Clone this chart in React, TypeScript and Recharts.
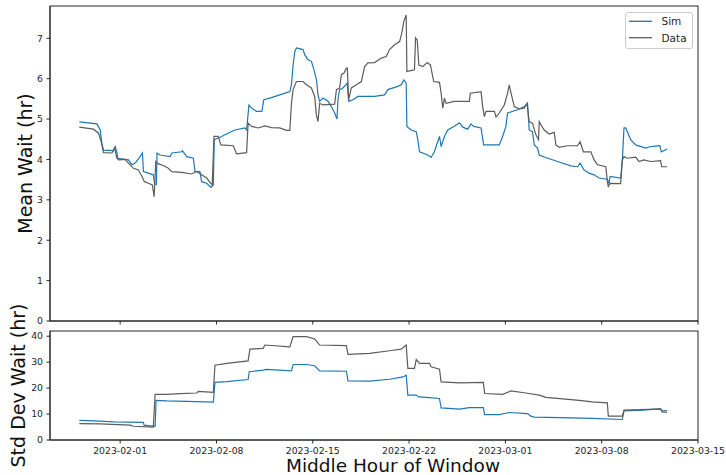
import React from 'react';
import { LineChart, Line, XAxis, YAxis, Legend } from 'recharts';

// x values are days after 2023-02-01 00:00
const DAY_TICKS = [0, 7, 14, 21, 28, 35, 42];
const MEAN_TICKS = [0, 1, 2, 3, 4, 5, 6, 7];
const STD_TICKS = [0, 10, 20, 30, 40];
const BASE_DATE = Date.UTC(2023, 1, 1);

const simMeanDays = [-2.97, -1.69, -1.45, -1.33, -1.21, -0.49, -0.36, -0.24, -0.17, 0.6, 0.85, 1.09, 1.45, 1.62, 1.69, 2.41, 2.5, 2.63, 2.68, 2.9, 3.63, 3.77, 4.47, 4.52, 4.84, 5.32, 5.44, 5.8, 5.92, 6.29, 6.6, 6.77, 6.84, 7.13, 7.38, 7.61, 8.34, 9.07, 9.19, 9.36, 9.55, 9.91, 10.3, 10.44, 10.88, 11.6, 12.33, 12.45, 12.57, 12.69, 12.81, 13.29, 13.42, 13.66, 13.9, 14.09, 14.27, 14.38, 14.5, 14.74, 15.11, 15.35, 15.59, 15.76, 15.83, 15.95, 16.19, 16.51, 16.61, 16.92, 17.28, 18.49, 19.22, 19.46, 20.18, 20.43, 20.62, 20.79, 20.84, 21.15, 21.52, 21.63, 21.76, 22.36, 22.6, 22.84, 23.08, 23.21, 23.33, 23.57, 23.81, 24.29, 24.66, 24.9, 25.26, 25.5, 25.69, 26.23, 26.42, 27.56, 27.8, 28.04, 28.16, 28.88, 29.37, 29.61, 29.73, 29.97, 30.1, 30.34, 30.46, 30.82, 31.79, 32.76, 33.24, 33.43, 33.72, 34.08, 34.45, 34.81, 35.41, 35.53, 35.61, 36.38, 36.5, 36.62, 36.75, 37.11, 37.47, 38.2, 38.56, 39.23, 39.33, 39.76];
const simMeanValues = [4.93, 4.88, 4.73, 4.4, 4.23, 4.22, 4.32, 4.17, 4.03, 3.99, 3.87, 3.91, 4.07, 4.16, 3.7, 3.62, 3.4, 3.38, 4.16, 4.11, 4.07, 4.16, 4.19, 4.22, 4.07, 4.03, 3.7, 3.7, 3.45, 3.41, 3.31, 3.37, 4.49, 4.53, 4.57, 4.61, 4.73, 4.78, 4.73, 5.35, 5.27, 5.19, 5.19, 5.48, 5.52, 5.6, 5.68, 5.85, 6.34, 6.67, 6.76, 6.72, 6.59, 6.47, 6.43, 6.22, 5.97, 5.6, 5.44, 5.52, 5.44, 5.31, 5.15, 5.0, 5.48, 5.73, 5.77, 5.89, 5.44, 5.48, 5.56, 5.56, 5.6, 5.73, 5.81, 5.85, 5.97, 5.89, 4.82, 4.73, 4.69, 4.49, 4.19, 4.11, 4.05, 4.19, 4.44, 4.57, 4.32, 4.57, 4.73, 4.82, 4.91, 4.8, 4.75, 4.88, 4.82, 4.78, 4.36, 4.36, 4.57, 4.82, 5.15, 5.23, 5.31, 5.39, 4.73, 4.69, 4.36, 4.28, 4.11, 4.06, 3.95, 3.84, 3.82, 3.91, 3.74, 3.66, 3.62, 3.54, 3.51, 3.41, 3.58, 3.54, 3.99, 4.78, 4.78, 4.49, 4.36, 4.28, 4.32, 4.34, 4.19, 4.26];

const dataMeanDays = [-2.97, -1.94, -1.57, -1.38, -1.21, -0.6, -0.41, -0.24, -0.12, 0.36, 0.6, 0.96, 1.33, 1.45, 1.57, 1.76, 2.05, 2.34, 2.47, 2.59, 2.78, 3.14, 3.5, 3.75, 4.47, 5.2, 5.56, 5.92, 6.29, 6.53, 6.69, 6.82, 7.13, 7.32, 8.22, 8.46, 9.19, 9.3, 9.55, 10.03, 10.52, 11.0, 11.6, 12.09, 12.33, 12.45, 12.57, 12.81, 13.29, 13.54, 13.9, 14.14, 14.26, 14.38, 14.5, 14.74, 15.59, 15.72, 15.95, 16.08, 16.27, 16.44, 16.51, 16.61, 16.8, 17.17, 17.53, 17.77, 18.01, 18.49, 18.98, 19.34, 19.58, 19.94, 20.31, 20.47, 20.62, 20.79, 20.84, 21.39, 21.47, 21.59, 21.71, 22.0, 22.31, 22.55, 22.79, 23.21, 23.33, 23.45, 23.57, 23.69, 24.29, 25.38, 25.45, 26.23, 26.35, 26.47, 26.59, 27.2, 27.32, 27.56, 27.92, 28.16, 28.28, 28.41, 28.65, 29.01, 29.37, 29.57, 29.73, 29.97, 30.22, 30.41, 30.46, 30.58, 30.82, 31.18, 31.55, 31.67, 31.91, 32.51, 33.24, 33.43, 33.67, 34.21, 34.45, 34.69, 35.3, 35.41, 35.48, 35.61, 36.38, 36.5, 36.62, 36.86, 37.47, 37.71, 38.07, 38.56, 39.28, 39.36, 39.76];
const dataMeanValues = [4.8, 4.75, 4.65, 4.44, 4.17, 4.16, 4.28, 4.03, 3.99, 4.0, 3.91, 3.78, 3.74, 3.66, 3.59, 3.45, 3.41, 3.37, 3.08, 3.95, 3.89, 3.85, 3.78, 3.7, 3.68, 3.64, 3.7, 3.62, 3.54, 3.43, 3.37, 4.57, 4.57, 4.36, 4.34, 4.14, 4.17, 4.9, 4.82, 4.78, 4.83, 4.79, 4.78, 4.72, 4.72, 5.39, 5.73, 5.93, 5.93, 5.85, 5.77, 5.56, 5.11, 4.94, 5.39, 5.35, 5.37, 5.73, 5.77, 6.1, 6.14, 6.26, 6.26, 5.48, 5.77, 5.85, 5.93, 6.3, 6.39, 6.4, 6.51, 6.55, 6.72, 6.84, 6.92, 7.13, 7.42, 7.58, 6.18, 6.22, 7.01, 6.96, 6.34, 6.3, 6.4, 6.34, 5.93, 5.91, 5.64, 5.27, 5.52, 5.39, 5.44, 5.44, 5.64, 5.68, 5.31, 5.06, 5.19, 5.19, 5.05, 5.15, 5.35, 5.64, 5.85, 5.64, 5.31, 5.25, 5.27, 5.39, 4.94, 4.9, 4.61, 4.49, 4.94, 4.86, 4.73, 4.63, 4.67, 4.36, 4.3, 4.34, 4.34, 4.44, 4.19, 4.19, 3.99, 3.87, 3.82, 3.45, 3.33, 3.41, 3.4, 3.99, 4.07, 4.03, 4.06, 3.95, 3.99, 3.95, 3.97, 3.82, 3.82];

const simStdDays = [-2.97, -1.45, -0.49, 1.69, 1.74, 2.54, 2.61, 3.39, 4.84, 6.77, 6.89, 7.74, 9.3, 9.38, 10.39, 10.64, 12.45, 12.57, 13.54, 14.14, 14.5, 16.44, 16.56, 18.13, 19.58, 20.55, 20.79, 20.91, 21.52, 21.71, 22.24, 23.21, 23.33, 24.66, 25.38, 26.4, 26.49, 27.56, 28.28, 29.61, 29.85, 30.1, 31.91, 34.32, 36.5, 36.62, 37.95, 39.28, 39.4, 39.76];
const simStdValues = [7.6, 7.3, 6.95, 6.8, 5.7, 5.3, 15.3, 15.1, 14.9, 14.6, 22.2, 22.5, 23.3, 26.3, 26.9, 27.2, 26.6, 29.1, 29.1, 28.6, 26.6, 26.5, 22.8, 22.7, 23.4, 24.3, 25.0, 17.3, 17.3, 16.6, 16.4, 16.0, 12.4, 11.9, 12.5, 12.5, 9.8, 9.8, 10.6, 10.2, 9.2, 8.8, 8.6, 8.3, 7.9, 11.2, 11.5, 12.0, 11.2, 11.3];

const dataStdDays = [-2.97, -1.45, 0.73, 0.96, 2.41, 2.54, 3.39, 4.35, 5.56, 5.68, 6.77, 6.89, 7.74, 9.3, 9.43, 10.39, 10.52, 12.33, 12.57, 13.54, 14.14, 14.5, 16.44, 16.56, 18.13, 19.58, 20.43, 20.79, 20.91, 21.39, 21.52, 21.76, 22.48, 22.6, 23.21, 23.33, 24.66, 26.4, 26.49, 27.8, 28.41, 29.49, 30.46, 30.94, 33.36, 34.32, 35.41, 35.48, 36.5, 36.62, 37.95, 39.28, 39.4, 39.76];
const dataStdValues = [6.3, 6.2, 5.7, 5.3, 5.0, 17.6, 17.6, 17.9, 18.1, 18.7, 18.4, 28.8, 29.5, 30.5, 35.0, 35.3, 36.6, 35.9, 39.8, 39.8, 38.9, 36.6, 36.4, 33.0, 33.4, 34.4, 35.0, 36.6, 27.6, 27.6, 31.0, 29.5, 29.5, 28.2, 27.3, 22.4, 22.0, 22.2, 17.9, 17.6, 18.9, 18.1, 17.3, 16.4, 15.3, 14.7, 14.3, 9.2, 9.2, 11.5, 11.7, 12.0, 10.7, 10.7];

const SERIES_NAMES = ['Sim', 'Data'];
const SIM_COLOR = '#1f77b4';
const DATA_COLOR = '#5c5c5c';
const AXIS_COLOR = '#262626';
const FONT = 'DejaVu Sans, sans-serif';

const zip = (days: number[], vals: number[]) => days.map((d, i) => ({ day: d, v: vals[i] }));
const simMean = zip(simMeanDays, simMeanValues);
const dataMean = zip(dataMeanDays, dataMeanValues);
const simStd = zip(simStdDays, simStdValues);
const dataStd = zip(dataStdDays, dataStdValues);

const pad = (n: number) => (n < 10 ? '0' + n : '' + n);
const fmtDate = (d: number) => {
  const dt = new Date(BASE_DATE + Math.round(d * 86400000));
  return `${dt.getUTCFullYear()}-${pad(dt.getUTCMonth() + 1)}-${pad(dt.getUTCDate())}`;
};

const X_DOMAIN: [number, number] = [-5.1, 42];
const tickStyle = { fill: AXIS_COLOR, fontSize: 9.3, fontFamily: FONT };

const LegendBox = () => (
  <svg width={68} height={37} style={{ display: 'block' }}>
    <rect x={0.5} y={0.5} width={67} height={36} rx={2.5} fill="#fff" fillOpacity={0.8} stroke="#cccccc" />
    <line x1={4} x2={27} y1={9.3} y2={9.3} stroke={SIM_COLOR} strokeWidth={1.3} />
    <text x={36.5} y={13.1} fontSize={10.5} fontFamily={FONT} fill={AXIS_COLOR}>{SERIES_NAMES[0]}</text>
    <line x1={4} x2={27} y1={25.7} y2={25.7} stroke={DATA_COLOR} strokeWidth={1.3} />
    <text x={36.5} y={29.5} fontSize={10.5} fontFamily={FONT} fill={AXIS_COLOR}>{SERIES_NAMES[1]}</text>
  </svg>
);

export default function App() {
  return (
    <div style={{ position: 'absolute', left: 0, top: 0, width: 726, height: 475, background: '#fff', overflow: 'hidden' }}>
      <div style={{ position: 'absolute', left: 0, top: 0 }}>
        <LineChart width={726} height={330} margin={{ top: 6, right: 28, left: 0, bottom: 0 }}>
          <XAxis
            dataKey="day"
            type="number"
            domain={X_DOMAIN}
            allowDataOverflow
            ticks={DAY_TICKS}
            interval={0}
            height={9}
            tickSize={3.5}
            tickFormatter={() => ''}
            stroke={AXIS_COLOR}
            tick={tickStyle}
          />
          <YAxis
            type="number"
            domain={[0, 7.8]}
            allowDataOverflow
            ticks={MEAN_TICKS}
            interval={0}
            width={50}
            tickSize={3.5}
            tickMargin={3.5}
            stroke={AXIS_COLOR}
            tick={tickStyle}
          />
          <Legend
            layout="vertical"
            align="center"
            verticalAlign="middle"
            content={() => <LegendBox />}
            wrapperStyle={{ position: 'absolute', left: 625, top: 12, width: 68, height: 37 }}
          />
          <Line data={simMean} dataKey="v" name={SERIES_NAMES[0]} type="linear" stroke={SIM_COLOR} strokeWidth={1.2} dot={false} isAnimationActive={false} />
          <Line data={dataMean} dataKey="v" name={SERIES_NAMES[1]} type="linear" stroke={DATA_COLOR} strokeWidth={1.2} dot={false} isAnimationActive={false} />
        </LineChart>
      </div>
      <div style={{ position: 'absolute', left: 0, top: 325 }}>
        <LineChart width={726} height={150} margin={{ top: 6, right: 28, left: 0, bottom: 0 }}>
          <XAxis
            dataKey="day"
            type="number"
            domain={X_DOMAIN}
            allowDataOverflow
            ticks={DAY_TICKS}
            interval={0}
            height={35}
            tickSize={3.5}
            tickMargin={3.5}
            tickFormatter={fmtDate}
            stroke={AXIS_COLOR}
            tick={tickStyle}
          />
          <YAxis
            type="number"
            domain={[0, 42]}
            allowDataOverflow
            ticks={STD_TICKS}
            interval={0}
            width={50}
            tickSize={3.5}
            tickMargin={3.5}
            stroke={AXIS_COLOR}
            tick={tickStyle}
          />
          <Line data={simStd} dataKey="v" name={SERIES_NAMES[0]} type="linear" stroke={SIM_COLOR} strokeWidth={1.2} dot={false} isAnimationActive={false} />
          <Line data={dataStd} dataKey="v" name={SERIES_NAMES[1]} type="linear" stroke={DATA_COLOR} strokeWidth={1.2} dot={false} isAnimationActive={false} />
        </LineChart>
      </div>
      <svg width={726} height={475} style={{ position: 'absolute', left: 0, top: 0, pointerEvents: 'none' }}>
        <rect x={50} y={6} width={648} height={315} fill="none" stroke={AXIS_COLOR} strokeWidth={1} />
        <rect x={50} y={331} width={648} height={109} fill="none" stroke={AXIS_COLOR} strokeWidth={1} />
        <text transform="translate(32,163.5) rotate(-90)" textAnchor="middle" fontSize={19} fontFamily={FONT} fill="#111">Mean Wait (hr)</text>
        <text transform="translate(25,385.5) rotate(-90)" textAnchor="middle" fontSize={19} fontFamily={FONT} fill="#111">Std Dev Wait (hr)</text>
        <text x={393} y={472} textAnchor="middle" fontSize={18.5} fontFamily={FONT} fill="#111">Middle Hour of Window</text>
      </svg>
    </div>
  );
}
